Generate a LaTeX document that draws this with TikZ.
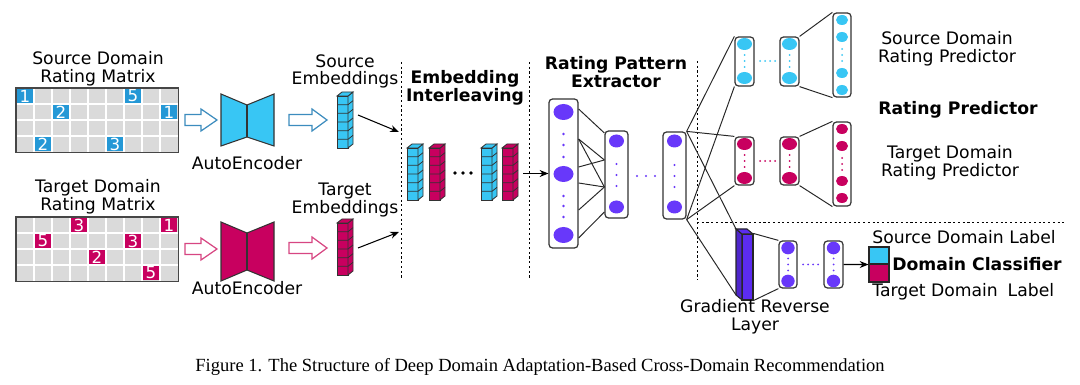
\documentclass[tikz,border=0pt]{standalone}
\usepackage{fontspec}
\setmainfont{DejaVu Sans}
\newfontfamily\capfont{Liberation Serif}
\usetikzlibrary{arrows.meta,calc}
\newlength\upx
\setlength\upx{0.02cm}
\definecolor{cyanE}{RGB}{56,198,244}
\definecolor{mblue}{RGB}{36,152,214}
\definecolor{magE}{RGB}{200,0,95}
\definecolor{purp}{RGB}{104,56,250}
\definecolor{grlc}{RGB}{92,44,240}
\definecolor{gridgrey}{RGB}{218,218,218}
\definecolor{edgegrey}{RGB}{70,70,70}
\definecolor{arrowblue}{RGB}{60,140,190}
\definecolor{arrowmag}{RGB}{215,70,130}
\newcommand\hollowArrow[5]{% x, y, shaft, head, colour
  \filldraw[draw=#5, fill=white, line width=0.7pt, line join=miter]
    (#1,#2-5.5) -- ++(#3,0) -- ++(0,-5.5) -- ++(#4,11) -- ++(-#4,11) -- ++(0,-5.5) -- ++(-#3,0) -- cycle;}
\begin{document}
\begin{tikzpicture}[x=0.02cm,y=-0.02cm,
  font=\fontsize{9.8}{10}\selectfont,
  lbl/.style={align=center, inner sep=0},
  blbl/.style={lbl, font=\fontsize{9.8}{10}\selectfont\bfseries},
  layer/.style={draw=black!80, line width=0.7pt, rounded corners=2pt, fill=white, inner sep=0},
  conn/.style={line width=0.55pt, draw=black!85},
  arr/.style={line width=0.6pt, draw=black, -{Stealth[length=5pt,width=4pt]}},
  divider/.style={line width=0.45pt, dash pattern=on 1.2pt off 1.5pt},
  celltxt/.style={text=white, inner sep=0, font=\fontsize{9.5}{10}\selectfont},
  estack/.pic={
    \filldraw[fill=#1, draw=black!80, line width=0.45pt] (0,0) rectangle (11,52);
    \filldraw[fill=#1, draw=black!80, line width=0.45pt] (11,0) -- (16,-4) -- (16,48) -- (11,52) -- cycle;
    \filldraw[fill=#1, draw=black!80, line width=0.45pt] (0,0) -- (5,-4) -- (16,-4) -- (11,0) -- cycle;
    \foreach \k in {1,...,5} {\draw[black!80, line width=0.45pt] (0,\k*52/6) -- (11,\k*52/6) -- (16,\k*52/6-4);}
  }
]
\fill[white] (0,0) rectangle (1080,385);
\useasboundingbox (0,0) rectangle (1080,385);

% ---------- rating matrices ----------
\node[lbl] (srcMt) at (98,68.5) {Source Domain\\Rating Matrix};
\node[lbl] (tgtMt) at (98,196.5) {Target Domain\\Rating Matrix};
\node[minimum width=162\upx, minimum height=64\upx, inner sep=0, anchor=north west] (srcM) at (16,88) {};
\node[minimum width=162\upx, minimum height=64\upx, inner sep=0, anchor=north west] (tgtM) at (16,217) {};
\fill[gridgrey] (srcM.north west) rectangle (srcM.south east);
\fill[gridgrey] (tgtM.north west) rectangle (tgtM.south east);
\foreach \i in {1,...,8} {
  \draw[white, line width=0.8pt] (16+\i*18,88) -- (16+\i*18,152);
  \draw[white, line width=0.8pt] (16+\i*18,217) -- (16+\i*18,281);}
\foreach \j in {1,2,3} {
  \draw[white, line width=0.8pt] (16,88+\j*16) -- (178,88+\j*16);
  \draw[white, line width=0.8pt] (16,217+\j*16) -- (178,217+\j*16);}
\foreach \c/\r/\v in {0/0/1,6/0/5,2/1/2,8/1/1,1/3/2,5/3/3} {
  \fill[mblue] (16+\c*18+1,88+\r*16+1) rectangle ++(16,14);
  \node[celltxt] (sc\c\r) at (16+\c*18+9,88+\r*16+8) {\v};}
\foreach \c/\r/\v in {3/0/3,8/0/1,1/1/5,6/1/3,4/2/2,7/3/5} {
  \fill[magE] (16+\c*18+1,217+\r*16+1) rectangle ++(16,14);
  \node[celltxt] (tc\c\r) at (16+\c*18+9,217+\r*16+8) {\v};}
\draw[edgegrey, line width=0.7pt] (srcM.north west) rectangle (srcM.south east);
\draw[edgegrey, line width=0.7pt] (tgtM.north west) rectangle (tgtM.south east);

% ---------- hollow arrows ----------
\hollowArrow{185}{120}{16}{16}{arrowblue}
\hollowArrow{289}{120}{23}{15}{arrowblue}
\hollowArrow{185}{249}{16}{16}{arrowmag}
\hollowArrow{289}{248}{23}{15}{arrowmag}

% ---------- autoencoders ----------
\filldraw[fill=cyanE, draw=black!80, line width=0.6pt] (221,94) -- (247,105) -- (274,94) -- (274,146) -- (247,137) -- (221,146) -- cycle;
\draw[black!80, line width=0.6pt] (247,105) -- (247,137);
\filldraw[fill=magE, draw=black!80, line width=0.6pt] (221,222) -- (247,233) -- (274,222) -- (274,281) -- (247,270) -- (221,281) -- cycle;
\draw[black!80, line width=0.6pt] (247,233) -- (247,270);
\node[lbl] (aeS) at (247,163) {AutoEncoder};
\node[lbl] (aeT) at (247,288) {AutoEncoder};

% ---------- embeddings ----------
\node[lbl] (seL) at (345,71.5) {Source\\Embeddings};
\node[lbl] (teL) at (345,200) {Target\\Embeddings};
\pic at (337,96) {estack=cyanE};
\pic at (337,223) {estack=magE};
\coordinate (seOut) at (358,115);
\coordinate (seIn) at (399,132);
\coordinate (teOut) at (358,248);
\coordinate (teIn) at (399,232);
\draw[arr] (seOut) -- (seIn);
\draw[arr] (teOut) -- (teIn);

% ---------- dividers ----------
\draw[divider] (401,62) -- (401,280);
\draw[divider] (529,62) -- (529,280);
\draw[divider] (697,61) -- (697,280);
\draw[divider] (697,222) -- (1067,222);

% ---------- interleaving ----------
\node[blbl] (ilL) at (465,88) {Embedding\\Interleaving};
\pic at (407,148) {estack=cyanE};
\pic at (429,148) {estack=magE};
\pic at (481,148) {estack=cyanE};
\pic at (502,148) {estack=magE};
\foreach \x in {455,463,471} \fill (\x,173) circle [radius=1.9];

% ---------- rating pattern extractor ----------
\node[blbl] (rpL) at (616,72) {Rating Pattern\\Extractor};
\node[layer, minimum width=29\upx, minimum height=149\upx] (E1) at (563.5,173.5) {};
\node[layer, minimum width=23\upx, minimum height=87\upx] (E2) at (616.5,174.5) {};
\node[layer, minimum width=23\upx, minimum height=87\upx] (E3) at (674.5,175.5) {};
\coordinate (ilOut) at (523,173.5);
\draw[arr] (ilOut) -- (E1.west);
\foreach \a/\b in {109/133,139/160,139/187,167/160,183/187,210/187,238/212}
  \draw[conn] (E1.east |- 0,\a) -- (E2.west |- 0,\b);
\foreach \y in {112,174,235} \fill[purp] (563.5,\y) ellipse [x radius=10, y radius=8];
\foreach \y in {134,145,157,196,206,217} \fill[purp] (563.5,\y) circle [radius=1.3];
\foreach \y in {141,207} {\fill[purp] (616.5,\y) ellipse [x radius=7.5, y radius=6.5];
  \fill[purp] (674.5,\y) ellipse [x radius=7.5, y radius=6.5];}
\foreach \y in {164,175,186} {\fill[purp] (616.5,\y) circle [radius=1.2]; \fill[purp] (674.5,\y+1) circle [radius=1.2];}
\foreach \x in {637,646,655} \fill[purp] (\x,176) circle [radius=1.2];

% ---------- rating predictors ----------
\node[layer, minimum width=19\upx, minimum height=49\upx] (S1) at (744.5,61.5) {};
\node[layer, minimum width=19\upx, minimum height=49\upx] (S2) at (789.5,61.5) {};
\node[layer, minimum width=18\upx, minimum height=84\upx] (S3) at (842,55) {};
\node[layer, minimum width=19\upx, minimum height=48\upx] (T1) at (744.5,161) {};
\node[layer, minimum width=19\upx, minimum height=48\upx] (T2) at (789.5,161) {};
\node[layer, minimum width=18\upx, minimum height=84\upx] (T3) at (842,164) {};

% gradient reverse layer
\node[draw=black!85, fill=grlc, line width=0.6pt, minimum width=11\upx, minimum height=66\upx, inner sep=0] (grl) at (747.5,267) {};
\filldraw[fill=grlc!85!black, draw=black!85, line width=0.6pt] (736,229) -- (742,234) -- (742,300) -- (736,295) -- cycle;
\filldraw[fill=grlc, draw=black!85, line width=0.6pt] (736,229) -- (747,229) -- (753,234) -- (742,234) -- cycle;
\coordinate (grlTL) at (736,229);
\coordinate (grlBL) at (736,295);

% domain classifier layers
\node[layer, minimum width=18\upx, minimum height=47\upx] (D1) at (788,264.5) {};
\node[layer, minimum width=19\upx, minimum height=47\upx] (D2) at (833.5,264.5) {};

% connections from extractor
\draw[conn] (E3.north east) -- (S1.north west);
\draw[conn] (E3.north east) -- (T1.north west);
\draw[conn] (E3.north east) -- (grlTL);
\draw[conn] (E3.south east) -- (S1.south west);
\draw[conn] (E3.south east) -- (T1.south west);
\draw[conn] (E3.south east) -- (grlBL);
\draw[conn] (S2.north east) -- (S3.north west);
\draw[conn] (S2.south east) -- (S3.south west);
\draw[conn] (T2.north east) -- (T3.north west);
\draw[conn] (T2.south east) -- (T3.south west);
\draw[conn] (grl.north east) -- (D1.north west);
\draw[conn] (grl.south east) -- (D1.south west);

% neurons: source predictor
\foreach \x in {744.5,789.5} {
  \foreach \y in {44,78} \fill[cyanE] (\x,\y) ellipse [x radius=7.5, y radius=6];
  \foreach \y in {55,61,67} \fill[cyanE] (\x,\y) circle [radius=1];}
\foreach \x in {760,765,770,775} \fill[cyanE] (\x,61) circle [radius=1];
\foreach \y in {20,37,73,90} \fill[cyanE] (842,\y) ellipse [x radius=6, y radius=5];
\foreach \y in {49,55,61} \fill[cyanE] (842,\y) circle [radius=1];
% neurons: target predictor
\foreach \x in {744.5,789.5} {
  \foreach \y in {144,178} \fill[magE] (\x,\y) ellipse [x radius=7.5, y radius=6];
  \foreach \y in {155,161,167} \fill[magE] (\x,\y) circle [radius=1];}
\foreach \x in {760,765,770,775} \fill[magE] (\x,161) circle [radius=1];
\foreach \y in {129,146,181,198} \fill[magE] (842,\y) ellipse [x radius=6, y radius=5];
\foreach \y in {158,164,170} \fill[magE] (842,\y) circle [radius=1];
% neurons: domain classifier
\foreach \x in {788,833.5} {
  \foreach \y in {248,281} \fill[purp] (\x,\y) ellipse [x radius=6.7, y radius=6.3];
  \foreach \y in {258.5,264.5,270.5} \fill[purp] (\x,\y) circle [radius=1];}
\foreach \x in {803,808,813,818} \fill[purp] (\x,264.5) circle [radius=1];

% labels squares
\node[draw=black!85, fill=cyanE, line width=0.6pt, minimum width=20\upx, minimum height=17\upx, inner sep=0] (lblS) at (879,255.5) {};
\node[draw=black!85, fill=magE, line width=0.6pt, minimum width=20\upx, minimum height=18\upx, inner sep=0] (lblT) at (879,273) {};
\draw[arr] (D2.east) -- (lblS.south west);

% ---------- texts ----------
\node[lbl] (spL) at (947,48.5) {Source Domain\\Rating Predictor};
\node[blbl] (rpredL) at (958,110) {Rating Predictor};
\node[lbl] (tpL) at (950,163) {Target Domain\\Rating Predictor};
\node[lbl, anchor=west] (sdl) at (872,237) {Source Domain Label};
\node[blbl, anchor=west] (dcl) at (892,264) {Domain Classifier};
\node[lbl, anchor=west] (tdl) at (872,292) {Target Domain\hspace{0.25em} Label};
\node[lbl] (grlL) at (755,317) {Gradient Reverse\\Layer};

% ---------- caption ----------
\node[inner sep=0, font=\capfont\fontsize{10.55}{12}\selectfont] (cap) at (540,367) {Figure 1. The Structure of Deep Domain Adaptation-Based Cross-Domain Recommendation};
\end{tikzpicture}
\end{document}
